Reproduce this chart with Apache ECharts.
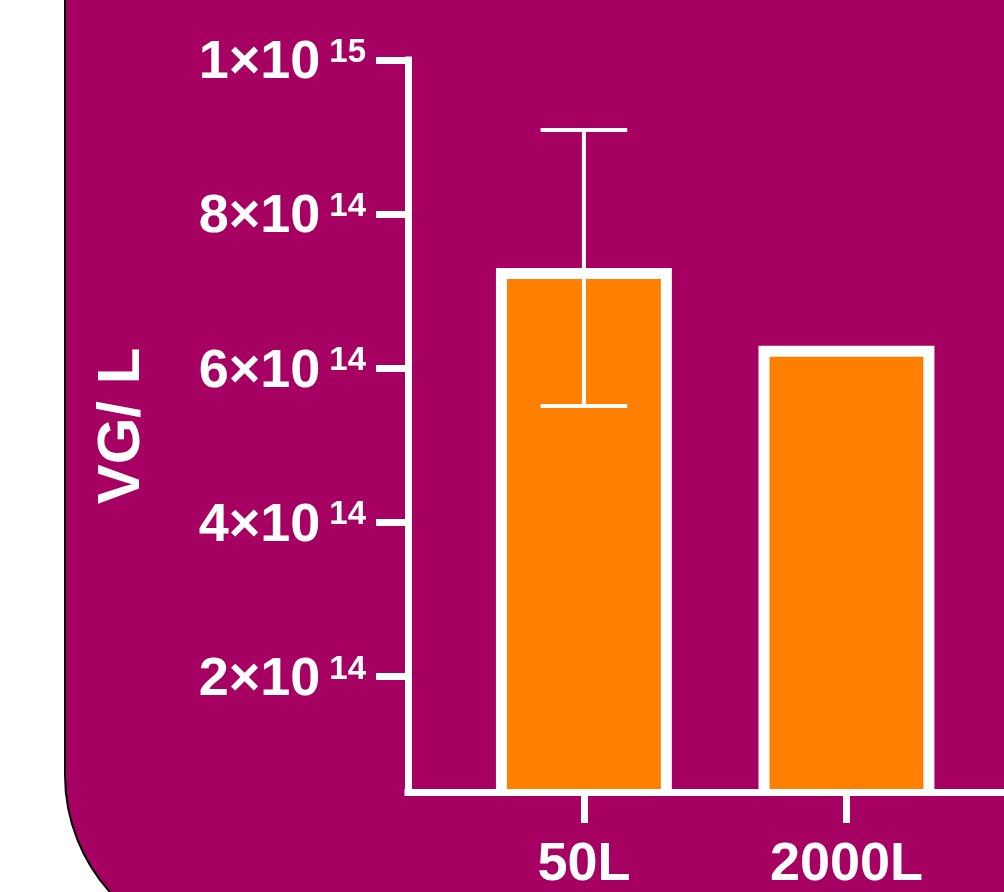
<!DOCTYPE html>
<html>
<head>
<meta charset="utf-8">
<title>VG/ L</title>
<script src="https://cdn.jsdelivr.net/npm/echarts@6/dist/echarts.min.js"></script>
<style>
  html, body { margin: 0; padding: 0; background: #ffffff; }
  #chart { width: 1004px; height: 892px; }
</style>
</head>
<body>
<div id="chart"></div>
<script>
// Vector genomes per litre by production scale
const categories = ['50L', '2000L'];
const titers = [7.30e14, 6.29e14];      // mean VG/L
const titerSD = [1.79e14, null];        // standard deviation (none for 2000L)
const yTicks = [2e14, 4e14, 6e14, 8e14, 1e15];
const yAxisName = 'VG/ L';

const PANEL = '#A50062';
const ORANGE = '#FF8000';
const WHITE = '#FFFFFF';
const FONT = '"Liberation Sans", Arial, Helvetica, sans-serif';
const Y_MIN = 5e13;
const Y_MAX = 1e15;
const BAR_W = 0.67;   // bar width in category units
const CAP_W = 0.33;   // error-bar cap width in category units
const BORDER = 11;    // white bar outline

function sciLabel(v) {
  const exp = Math.floor(Math.log10(v) + 1e-9);
  const mant = Math.round(v / Math.pow(10, exp));
  return '{m|' + mant + '×10}{e|' + exp + '}';
}

const chart = echarts.init(document.getElementById('chart'), null, { renderer: 'canvas' });

chart.setOption({
  backgroundColor: '#ffffff',
  animation: false,
  graphic: [{
    type: 'rect',
    z: -100,
    silent: true,
    shape: { x: 65, y: -200, width: 1200, height: 1150, r: 175 },
    style: { fill: PANEL, stroke: '#000000', lineWidth: 2 }
  }],
  grid: { left: 408, right: 0, top: 60, bottom: 97, containLabel: false },
  xAxis: {
    type: 'value',
    min: -0.67,
    max: 1.6,
    z: 5,
    splitLine: { show: false },
    axisLine: { show: true, onZero: false, lineStyle: { color: WHITE, width: 7, cap: 'square' } },
    axisTick: { show: true, customValues: [0, 1], length: 31, lineStyle: { color: WHITE, width: 7 } },
    axisLabel: {
      customValues: [0, 1],
      margin: 46,
      color: WHITE,
      fontFamily: FONT,
      fontWeight: 'bold',
      fontSize: 54,
      formatter: v => categories[Math.round(v)] || ''
    }
  },
  yAxis: {
    type: 'value',
    min: Y_MIN,
    max: Y_MAX,
    z: 5,
    name: yAxisName,
    nameLocation: 'middle',
    nameGap: 256,
    nameRotate: 90,
    nameTextStyle: { color: WHITE, fontFamily: FONT, fontWeight: 'bold', fontSize: 60 },
    splitLine: { show: false },
    axisLine: { show: true, onZero: false, lineStyle: { color: WHITE, width: 7, cap: 'square' } },
    axisTick: { show: true, customValues: yTicks, length: 32, lineStyle: { color: WHITE, width: 7 } },
    axisLabel: {
      customValues: yTicks,
      margin: 42,
      padding: [7, 0, 0, 0],
      color: WHITE,
      formatter: v => sciLabel(v),
      rich: {
        m: { color: WHITE, fontFamily: FONT, fontWeight: 'bold', fontSize: 54, lineHeight: 54 },
        e: { color: WHITE, fontFamily: FONT, fontWeight: 'bold', fontSize: 33, lineHeight: 33,
             verticalAlign: 'top', padding: [0, 0, 0, 9] }
      }
    }
  },
  series: [
    {
      name: 'titer',
      type: 'custom',
      z: 2,
      data: categories.map((c, i) => [i, titers[i]]),
      renderItem: function (params, api) {
        const x = api.value(0);
        const v = api.value(1);
        const top = api.coord([x, v]);
        const base = api.coord([x, Y_MIN]);
        const w = api.size([BAR_W, 0])[0];
        const h = base[1] - top[1];
        return {
          type: 'group',
          children: [
            { type: 'rect', shape: { x: top[0] - w / 2, y: top[1], width: w, height: h },
              style: { fill: WHITE } },
            { type: 'rect', shape: { x: top[0] - w / 2 + BORDER, y: top[1] + BORDER,
                                     width: w - 2 * BORDER, height: h - BORDER },
              style: { fill: ORANGE } }
          ]
        };
      }
    },
    {
      name: 'sd',
      type: 'custom',
      z: 3,
      data: categories.map((c, i) => [i, titers[i], titerSD[i]]).filter(d => d[2] != null),
      renderItem: function (params, api) {
        const x = api.value(0);
        const v = api.value(1);
        const sd = api.value(2);
        const hi = api.coord([x, v + sd]);
        const lo = api.coord([x, v - sd]);
        const cw = api.size([CAP_W, 0])[0];
        const st = { stroke: WHITE, lineWidth: 4, fill: null };
        return {
          type: 'group',
          children: [
            { type: 'line', shape: { x1: hi[0], y1: hi[1], x2: lo[0], y2: lo[1] }, style: st },
            { type: 'line', shape: { x1: hi[0] - cw / 2, y1: hi[1], x2: hi[0] + cw / 2, y2: hi[1] }, style: st },
            { type: 'line', shape: { x1: lo[0] - cw / 2, y1: lo[1], x2: lo[0] + cw / 2, y2: lo[1] }, style: st }
          ]
        };
      }
    }
  ]
});
</script>
</body>
</html>
